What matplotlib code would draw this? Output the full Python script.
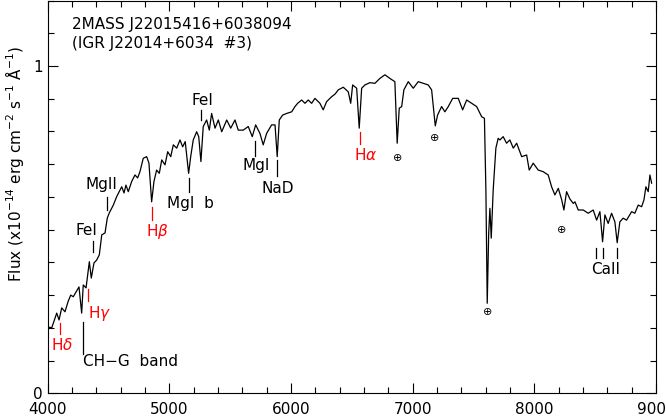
import matplotlib
matplotlib.use("Agg")
import matplotlib.pyplot as plt
from matplotlib.ticker import MultipleLocator, FixedLocator

# Spectrum (wavelength in Angstrom, flux in 1e-14 erg/cm2/s/A)
wavelength = [4000, 4034, 4075, 4094, 4116, 4143, 4168, 4190, 4211, 4244, 4258, 4280, 4293, 4316,
              4343, 4359, 4381, 4403, 4425, 4445, 4472, 4491, 4507, 4540, 4568, 4589, 4609, 4628,
              4644, 4663, 4691, 4718, 4740, 4759, 4786, 4814, 4833, 4855, 4874, 4896, 4918, 4938,
              4965, 4987, 5012, 5033, 5061, 5088, 5110, 5131, 5159, 5176, 5197, 5225, 5242, 5260,
              5279, 5307, 5329, 5348, 5376, 5403, 5431, 5472, 5505, 5540, 5567, 5608, 5649, 5682,
              5710, 5745, 5772, 5800, 5841, 5869, 5887, 5904, 5932, 5965, 6006, 6033, 6055, 6088,
              6115, 6142, 6170, 6197, 6238, 6265, 6293, 6334, 6362, 6389, 6430, 6471, 6491, 6507,
              6540, 6561, 6581, 6608, 6649, 6690, 6731, 6772, 6813, 6854, 6873, 6890, 6910, 6928,
              6964, 7005, 7046, 7087, 7128, 7156, 7186, 7205, 7238, 7265, 7293, 7329, 7375, 7411,
              7444, 7485, 7526, 7567, 7590, 7602, 7613, 7625, 7635, 7646, 7662, 7684, 7703, 7717,
              7744, 7772, 7799, 7827, 7855, 7896, 7937, 7958, 7991, 8032, 8073, 8114, 8142, 8169,
              8197, 8225, 8243, 8265, 8292, 8320, 8334, 8361, 8402, 8443, 8484, 8512, 8539, 8561,
              8580, 8607, 8635, 8662, 8681, 8703, 8730, 8758, 8800, 8826, 8854, 8882, 8901, 8917,
              8936, 8950, 8964]
flux = [0.203, 0.200, 0.245, 0.224, 0.261, 0.249, 0.280, 0.300, 0.295, 0.316, 0.325, 0.245, 0.331, 0.322,
        0.402, 0.352, 0.398, 0.407, 0.423, 0.484, 0.490, 0.536, 0.551, 0.575, 0.601, 0.616, 0.631, 0.612,
        0.636, 0.616, 0.647, 0.667, 0.658, 0.677, 0.718, 0.723, 0.703, 0.585, 0.647, 0.682, 0.672, 0.713,
        0.698, 0.738, 0.723, 0.759, 0.749, 0.774, 0.753, 0.769, 0.672, 0.723, 0.774, 0.799, 0.784, 0.708,
        0.815, 0.835, 0.804, 0.855, 0.810, 0.835, 0.799, 0.835, 0.810, 0.835, 0.804, 0.804, 0.815, 0.784,
        0.820, 0.794, 0.759, 0.794, 0.820, 0.820, 0.723, 0.835, 0.850, 0.855, 0.860, 0.876, 0.886, 0.896,
        0.886, 0.896, 0.886, 0.901, 0.886, 0.866, 0.891, 0.906, 0.914, 0.927, 0.935, 0.921, 0.886, 0.942,
        0.932, 0.810, 0.932, 0.942, 0.949, 0.947, 0.962, 0.973, 0.962, 0.952, 0.764, 0.871, 0.876, 0.927,
        0.952, 0.932, 0.952, 0.947, 0.942, 0.927, 0.817, 0.850, 0.876, 0.860, 0.876, 0.901, 0.901, 0.866,
        0.896, 0.886, 0.876, 0.845, 0.840, 0.621, 0.275, 0.489, 0.565, 0.474, 0.621, 0.749, 0.779, 0.774,
        0.784, 0.764, 0.774, 0.749, 0.764, 0.723, 0.728, 0.682, 0.703, 0.682, 0.677, 0.667, 0.631, 0.606,
        0.626, 0.591, 0.560, 0.616, 0.594, 0.580, 0.585, 0.560, 0.560, 0.550, 0.560, 0.529, 0.555, 0.463,
        0.545, 0.519, 0.550, 0.524, 0.460, 0.524, 0.535, 0.529, 0.555, 0.550, 0.575, 0.570, 0.591, 0.631,
        0.616, 0.667, 0.642]

# Line identifications: label, tick x, tick y0, tick y1, label x, label y, colour, alignment
line_labels = ["H$\\delta$", "CH\u2212G  band", "H$\\gamma$", "FeI", "MgII", "H$\\beta$", "MgI  b",
               "FeI", "MgI", "NaD", "H$\\alpha$"]
line_x = [4102, 4293, 4334, 4373, 4486, 4855, 5164, 5258, 5707, 5885, 6565]
line_y0 = [0.181, 0.120, 0.282, 0.432, 0.560, 0.529, 0.615, 0.835, 0.725, 0.665, 0.762]
line_y1 = [0.216, 0.218, 0.319, 0.465, 0.600, 0.570, 0.658, 0.866, 0.771, 0.713, 0.798]
label_x = [4118, 4291, 4332, 4316, 4445, 4899, 5170, 5269, 5712, 5893, 6612]
label_y = [0.148, 0.097, 0.245, 0.496, 0.639, 0.494, 0.581, 0.896, 0.695, 0.627, 0.728]
line_colors = ["red", "black", "red", "black", "black", "red", "black", "black", "black", "black", "red"]
label_ha = ["center", "left", "left", "center", "center", "center", "center", "center", "center",
            "center", "center"]

telluric_x = [6877, 7183, 7619, 8224]
telluric_y = [0.719, 0.780, 0.248, 0.499]

caii_x = [8504, 8561, 8679]
caii_y0, caii_y1 = 0.412, 0.443
caii_label_x, caii_label_y = 8588, 0.377

title_lines = ["2MASS J22015416+6038094", "(IGR J22014+6034  #3)"]
title_x = 4200
title_y = [1.128, 1.070]

W, H = 666, 418
fig = plt.figure(figsize=(W / 100, H / 100), dpi=100)
ax = fig.add_axes([47.6 / W, 1 - 393.3 / H, (656 - 47.6) / W, (393.3 - 0.5) / H])

ax.plot(wavelength, flux, color="black", lw=0.9)

for lab, x, y0, y1, lx, ly, c, ha in zip(line_labels, line_x, line_y0, line_y1,
                                         label_x, label_y, line_colors, label_ha):
    ax.plot([x, x], [y0, y1], color=c, lw=0.9)
    ax.text(lx, ly, lab, color=c, ha=ha, va="center", fontsize=11)

for x, y in zip(telluric_x, telluric_y):
    ax.text(x, y, "\u2295", ha="center", va="center", fontsize=8)

for x in caii_x:
    ax.plot([x, x], [caii_y0, caii_y1], color="black", lw=0.9)
ax.text(caii_label_x, caii_label_y, "CaII", ha="center", va="center", fontsize=11)

for t, y in zip(title_lines, title_y):
    ax.text(title_x, y, t, ha="left", va="center", fontsize=11)

ax.set_xlim(4000, 9000)
ax.set_ylim(0, 1.2)
ax.xaxis.set_major_locator(MultipleLocator(1000))
ax.xaxis.set_minor_locator(MultipleLocator(200))
ax.yaxis.set_major_locator(FixedLocator([0, 1]))
ax.yaxis.set_minor_locator(MultipleLocator(0.1))
ax.tick_params(which="both", direction="in", top=True, right=True, labelsize=11, width=0.8)
ax.tick_params(which="major", length=7)
ax.tick_params(which="minor", length=4.5)
ax.tick_params(axis="x", pad=6)
for s in ax.spines.values():
    s.set_linewidth(0.8)

fig.text(15 / W, 1 - 164 / H,
         "Flux (x10$^{-14}$ erg cm$^{-2}$ s$^{-1}$ \u00c5$^{-1}$)",
         rotation=90, ha="center", va="center", fontsize=11)

fig.savefig("out.png", dpi=100)
